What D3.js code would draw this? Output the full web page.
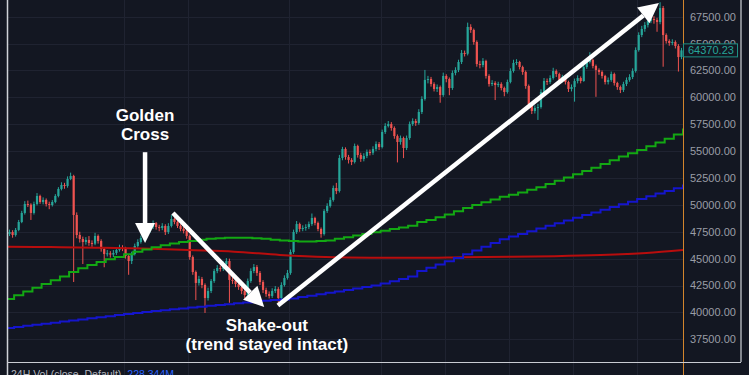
<!DOCTYPE html>
<html>
<head>
<meta charset="utf-8">
<script src="https://cdn.jsdelivr.net/npm/d3@7"></script>
<style>
  html, body { margin: 0; padding: 0; background: #131722; }
  svg { display: block; }
</style>
</head>
<body>
<script>
// BTC 8h candles, open of each bar = close of the previous one
const candleStart = "2021-08-31T08:00:00Z";
const candleHours = 8;
const firstOpen = 47300;

const closes = [
  47480, 47200, 47670, 48410, 49250, 50080, 50020, 49250, 50080, 50830,
  50270, 50460, 50080, 49990, 50270, 50830, 51480, 51850, 51760, 52410,
  52690, 49060, 47200, 46830, 46550, 46740, 46460, 46400, 47110, 46640,
  45900, 45430, 45500, 45380, 45530, 45810, 45990, 45950, 45250, 44780,
  45430, 46180, 46550, 46920, 47110, 47570, 47940, 48310, 47940,
  47850, 48040, 47480, 48040, 48690, 48410, 48040, 47760, 47570, 47110,
  45150, 43760, 42740, 43110, 42550, 41340, 41990, 42920, 43850, 44130,
  44040, 44500, 44780, 43020, 42950, 42640, 42360, 41990, 41620, 42920,
  43850, 44220, 43670, 42830, 42090, 41710, 41530, 41990, 42180, 41340,
  42550, 43200, 43670, 45620, 47480, 48220, 47760, 47850, 47940,
  48220, 48780, 48320, 47760, 47290, 49430, 49900, 50460, 51570, 51290,
  54360, 55200, 54450, 54180, 53990, 55480, 54640, 54270, 54550, 54920,
  54850, 55200, 55660, 55380, 56780, 57340, 57520, 57150, 56400, 55850,
  56220, 55290, 56220, 57520, 57800, 57620, 58640, 59850, 61620, 61710,
  61240, 60780, 60960, 60220, 61990, 61710, 60870, 62270, 62550,
  63290, 64130, 64060, 66550, 66270, 65150, 63100, 63010, 63380, 61990,
  61240, 61340, 61150, 61240, 60870, 60500, 61430, 62450, 63200, 63290,
  62820, 62360, 61060, 59380, 58730, 59010, 59100, 60500, 61520, 61430,
  61800, 62450, 62170, 61620, 61890, 61430, 60780, 60960, 61520, 61800,
  61520, 62820, 63290, 63480, 62920, 62550, 62360, 61990, 61430,
  61620, 62170, 61340, 60960, 60690, 61240, 61620, 61890, 62450, 64400,
  65800, 66360, 66730, 67100, 67290, 67200, 67010, 68310, 65800, 65240,
  65060, 65150, 64780, 63750, 64370.23
];

const highs = [
  47700, 47650, 47850, 48600, 49450, 50350, 50400, 50150, 50300, 51100,
  50950, 50700, 50600, 50300, 50450, 51000, 51650, 52100, 52050, 52650,
  53000, 52800, 49300, 47500, 47050, 47000, 47100, 46700, 47400, 47250,
  46800, 46050, 45800, 45700, 45800, 46050, 46300, 46250, 46100, 45400,
  45650, 46400, 46800, 47150, 47350, 47800, 48200, 48550, 48400,
  48150, 48300, 48200, 48300, 49050, 48850, 48550, 48200, 47950, 47700,
  47250, 45300, 43900, 43400, 43300, 42700, 42300, 43100, 44050, 44400,
  44350, 44750, 45050, 45000, 43300, 43150, 42850, 42550, 42200, 43150,
  44100, 44500, 44400, 43850, 43000, 42300, 41950, 42250, 42450, 42350,
  42800, 43450, 43950, 45850, 47700, 48500, 48350, 48100, 48200,
  48450, 49200, 48900, 48450, 47900, 49600, 50150, 50700, 51800, 52050,
  54650, 55400, 55350, 54650, 54350, 55700, 55600, 54850, 54800, 55150,
  55150, 55450, 55900, 55850, 57000, 57600, 57800, 57700, 57300, 56550,
  56450, 56350, 56450, 57750, 58050, 58000, 58900, 60100, 62550, 62000,
  61900, 61400, 61200, 61100, 62300, 62150, 61850, 62500, 62800,
  63500, 64400, 64350, 66950, 66800, 66400, 65300, 63400, 63650, 63500,
  62150, 61600, 61500, 61450, 61400, 61000, 61650, 62700, 63500, 63550,
  63400, 62950, 62500, 61200, 59550, 59250, 59400, 60750, 61800, 61750,
  62050, 62750, 62600, 62300, 62100, 62050, 61550, 61200, 61750, 62050,
  61950, 63100, 63550, 64200, 63600, 63050, 62700, 62500, 62100,
  61850, 62400, 62300, 61450, 61100, 61450, 61850, 62150, 62700, 64650,
  66050, 66650, 67000, 67400, 67600, 67550, 67400, 68850, 68500, 65950,
  65400, 65400, 65300, 64950, 64600
];

const lows = [
  47100, 46950, 47050, 47550, 48300, 49100, 49800, 48600, 49100, 49950,
  50100, 50050, 49850, 49600, 49850, 50150, 50700, 51350, 51500, 51600,
  52300, 42830, 46900, 46500, 44500, 46300, 46200, 46100, 46250, 46400,
  45650, 44200, 45200, 45100, 45150, 45350, 45650, 45700, 45000, 43500,
  44500, 45300, 46000, 46400, 46700, 46950, 47400, 47750, 47700,
  47550, 47650, 47200, 47300, 47900, 48200, 47850, 47550, 47350, 46850,
  44900, 43500, 41150, 42500, 42250, 39950, 41100, 41800, 42750, 43650,
  43800, 43850, 44300, 40900, 42650, 42350, 42100, 41700, 41300, 41450,
  42750, 43650, 43400, 42550, 41800, 41450, 41300, 41350, 41800, 40900,
  41200, 42400, 43050, 43500, 45450, 47300, 47500, 47550, 47600,
  47750, 48050, 48100, 47550, 46950, 47150, 49250, 49750, 50300, 51000,
  51150, 54150, 54200, 53850, 53700, 53850, 54400, 54000, 54050, 54350,
  54600, 54650, 55000, 55100, 55250, 56600, 57200, 56900, 56150, 53950,
  55600, 54350, 55100, 56050, 57350, 57350, 57450, 58450, 59700, 61300,
  61000, 60550, 60500, 59500, 60050, 61400, 60200, 60700, 62050,
  62350, 63100, 63800, 63900, 66000, 64900, 62850, 62700, 62800, 61750,
  61000, 61050, 59750, 60950, 60650, 60100, 60350, 61300, 62300, 63000,
  62600, 62100, 60800, 59100, 58450, 58500, 57900, 58950, 60350, 61150,
  61250, 61650, 61900, 61350, 61400, 61200, 60500, 60550, 59600, 61300,
  61300, 61450, 62650, 63150, 62700, 60050, 62100, 61750, 61200,
  61200, 61450, 61100, 60700, 60400, 60500, 61050, 61450, 61700, 62300,
  64250, 65600, 66100, 66500, 66900, 66850, 66100, 66800, 62850, 65000,
  64800, 64850, 64550, 62400, 63550
];

// daily moving averages, one value per UTC day from maStart
const maStart = "2021-08-31T00:00:00Z";
const greenMA = [
  41250, 41600, 41950, 42300, 42650, 43000, 43350, 43750, 44100, 44400,
  44700, 44950, 45150, 45400, 45650, 45850, 46050, 46250, 46400, 46550,
  46650, 46750, 46850, 46900, 46950, 46950, 46950, 46900, 46850, 46750,
  46700, 46650, 46600, 46600, 46650, 46700, 46850, 47000, 47150, 47300,
  47450, 47600, 47750, 47900, 48050, 48400, 48600, 48850, 49100, 49400,
  49700, 50000, 50250, 50500, 50750, 50950, 51150, 51400, 51650, 51950,
  52250, 52550, 52850, 53150, 53450, 53800, 54150, 54500, 54800, 55100,
  55450, 55800, 56150, 56550, 57000
];
const blueMA = [
  38550, 38650, 38750, 38850, 38950, 39050, 39150, 39250, 39350, 39450,
  39550, 39650, 39750, 39850, 39950, 40050, 40130, 40210, 40290, 40370,
  40450, 40530, 40610, 40690, 40770, 40850, 40930, 41010, 41080, 41150,
  41200, 41300, 41430, 41560, 41690, 41820, 41950, 42080, 42220, 42360,
  42500, 42700, 42900, 43100, 43350, 43850, 44150, 44450, 44750, 45050,
  45400, 45750, 46100, 46450, 46800, 47050, 47300, 47550, 47800, 48050,
  48300, 48550, 48800, 49050, 49300, 49550, 49800, 50050, 50300, 50550,
  50800, 51050, 51300, 51550, 51800
];
const redDates = [
  "2021-08-31", "2021-09-05", "2021-09-10", "2021-09-15", "2021-09-20",
  "2021-09-25", "2021-09-30", "2021-10-05", "2021-10-10", "2021-10-15",
  "2021-10-20", "2021-10-25", "2021-10-30", "2021-11-04", "2021-11-09",
  "2021-11-13"
];
const redMA = [
  46120, 46080, 46020, 45950, 45800, 45650, 45350, 45150, 45090, 45080,
  45130, 45180, 45230, 45330, 45520, 45800
];

const priceTicks = [37500, 40000, 42500, 45000, 47500, 50000, 52500, 55000, 57500, 60000, 62500, 65000, 67500];
const gridDates = ["2021-09-13", "2021-09-20", "2021-10-01", "2021-10-11", "2021-10-18", "2021-10-25", "2021-11-01", "2021-11-08"];
const lastPrice = 64370.23;
const volLabel = "24H Vol (close, Default)";
const volValue = "228.344M";

const annotations = [
  { lines: ["Golden", "Cross"], at: "2021-09-15T07:00:00Z", prices: [57800, 56030] },
  { lines: ["Shake-out", "(trend stayed intact)"], at: "2021-09-28T14:00:00Z", prices: [38270, 36500] }
];
const arrows = [
  { from: ["2021-09-15T07:00:00Z", 54900], to: ["2021-09-15T07:00:00Z", 46450] },
  { from: ["2021-09-18T08:00:00Z", 49250], to: ["2021-09-28T07:00:00Z", 40500] },
  { from: ["2021-09-29T19:00:00Z", 40650], to: ["2021-11-10T09:00:00Z", 68780] }
];

const width = 749, height = 375;
const pane = { left: 8, right: 683, top: 0, bottom: 362 };
const fontUI = "'Liberation Sans', Arial, sans-serif";

const hour = 3600e3, day = 24 * hour;
const t0 = new Date(candleStart);
const candles = closes.map((c, i) => ({
  t: new Date(+t0 + i * candleHours * hour),
  o: i ? closes[i - 1] : firstOpen,
  h: highs[i],
  l: lows[i],
  c: c
}));

const x = d3.scaleUtc()
  .domain([t0, new Date(+t0 + closes.length * candleHours * hour)])
  .range([pane.left, pane.right]);
const y = d3.scaleLinear().domain([35389, 69055]).range([pane.bottom, pane.top]);

const svg = d3.select("body").append("svg")
  .attr("width", width)
  .attr("height", height);

svg.append("rect").attr("width", width).attr("height", height).attr("fill", "#131722");

svg.append("clipPath").attr("id", "pane")
  .append("rect")
    .attr("x", pane.left).attr("y", pane.top)
    .attr("width", pane.right - pane.left).attr("height", pane.bottom - pane.top);

// grid
const grid = svg.append("g").attr("stroke", "#1f2331").attr("stroke-width", 1);
grid.selectAll(".hg").data(priceTicks).join("line")
  .attr("x1", pane.left).attr("x2", pane.right)
  .attr("y1", d => Math.round(y(d)) + 0.5).attr("y2", d => Math.round(y(d)) + 0.5);
grid.selectAll(".vg").data(gridDates.map(d => new Date(d + "T00:00:00Z"))).join("line")
  .attr("x1", d => Math.round(x(d)) + 0.5).attr("x2", d => Math.round(x(d)) + 0.5)
  .attr("y1", pane.top).attr("y2", height);

const plot = svg.append("g").attr("clip-path", "url(#pane)");

// candles
const up = "#26a69a", down = "#ef5350";
const step = x(new Date(+t0 + candleHours * hour)) - x(t0);
const bar = plot.append("g").selectAll("g").data(candles).join("g")
  .attr("fill", d => d.c >= d.o ? up : down)
  .attr("stroke", d => d.c >= d.o ? up : down);
bar.append("line")
  .attr("x1", d => x(d.t) + step / 2).attr("x2", d => x(d.t) + step / 2)
  .attr("y1", d => y(d.h)).attr("y2", d => y(d.l))
  .attr("stroke-width", 1);
bar.append("rect")
  .attr("stroke", "none")
  .attr("x", d => x(d.t) + step / 2 - 1.1)
  .attr("width", 2.2)
  .attr("y", d => y(Math.max(d.o, d.c)))
  .attr("height", d => Math.max(1, Math.abs(y(d.o) - y(d.c))));

// moving averages
const m0 = new Date(maStart);
function dailySeries(values) {
  const pts = values.map((v, i) => [new Date(+m0 + i * day), v]);
  pts.push([new Date(+m0 + values.length * day), values[values.length - 1]]);
  return pts;
}
const stepLine = d3.line().x(d => x(d[0])).y(d => y(d[1])).curve(d3.curveStepAfter);
const smoothLine = d3.line().x(d => x(d[0])).y(d => y(d[1])).curve(d3.curveMonotoneX);

plot.append("path")
  .datum(redDates.map((d, i) => [new Date(d + "T00:00:00Z"), redMA[i]]))
  .attr("d", smoothLine).attr("fill", "none").attr("stroke", "#b80d0d").attr("stroke-width", 2);
plot.append("path")
  .datum(dailySeries(greenMA))
  .attr("d", stepLine).attr("fill", "none").attr("stroke", "#13a813").attr("stroke-width", 2);
plot.append("path")
  .datum(dailySeries(blueMA))
  .attr("d", stepLine).attr("fill", "none").attr("stroke", "#1515cc").attr("stroke-width", 2);

// frame
svg.append("line").attr("x1", pane.right + 0.5).attr("x2", pane.right + 0.5)
  .attr("y1", 0).attr("y2", height).attr("stroke", "#d3852c").attr("stroke-width", 1);
svg.append("line").attr("x1", 7.5).attr("x2", 7.5).attr("y1", 0).attr("y2", height)
  .attr("stroke", "#cfd2d8").attr("stroke-width", 1.5);
svg.append("line").attr("x1", 741).attr("x2", 741).attr("y1", 0).attr("y2", pane.bottom)
  .attr("stroke", "#cfd2d8").attr("stroke-width", 1.2);
svg.append("line").attr("x1", 7).attr("x2", 741).attr("y1", pane.bottom + 0.5).attr("y2", pane.bottom + 0.5)
  .attr("stroke", "#c9ccd3").attr("stroke-width", 1.2);

// price scale
svg.append("g").selectAll("text").data(priceTicks).join("text")
  .attr("x", 690).attr("y", d => y(d)).attr("dy", "0.36em")
  .attr("font-family", fontUI).attr("font-size", 11).attr("fill", "#9a9da6")
  .text(d => d3.format(".2f")(d));

const tag = svg.append("g").attr("transform", `translate(0,${y(lastPrice)})`);
tag.append("rect").attr("x", 683.5).attr("y", -6.5).attr("width", 54).attr("height", 13)
  .attr("fill", "#131722").attr("stroke", "#1f8f83").attr("stroke-width", 1);
tag.append("text").attr("x", 688).attr("dy", "0.36em")
  .attr("font-family", fontUI).attr("font-size", 11).attr("fill", "#26a69a")
  .text(d3.format(".2f")(lastPrice));

// volume pane legend (cut by the bottom edge, as in the source)
const volText = svg.append("text").attr("x", 11).attr("y", 378)
  .attr("font-family", fontUI).attr("font-size", 10.5).attr("fill", "#b2b5be")
  .text(volLabel);
svg.append("text").attr("x", 11 + volText.node().getComputedTextLength() + 6).attr("y", 378)
  .attr("font-family", fontUI).attr("font-size", 10.5).attr("fill", "#2962ff")
  .text(volValue);

// annotations
const notes = svg.append("g");
arrows.forEach(a => {
  const x1 = x(new Date(a.from[0])), y1 = y(a.from[1]);
  const x2 = x(new Date(a.to[0])), y2 = y(a.to[1]);
  const ang = Math.atan2(y2 - y1, x2 - x1);
  const headLen = 20, headHalf = 10;
  const bx = x2 - headLen * Math.cos(ang), by = y2 - headLen * Math.sin(ang);
  notes.append("line")
    .attr("x1", x1).attr("y1", y1).attr("x2", bx).attr("y2", by)
    .attr("stroke", "#ffffff").attr("stroke-width", 4.5);
  notes.append("polygon")
    .attr("fill", "#ffffff")
    .attr("points", [
      [x2, y2],
      [bx + headHalf * Math.sin(ang), by - headHalf * Math.cos(ang)],
      [bx - headHalf * Math.sin(ang), by + headHalf * Math.cos(ang)]
    ].map(p => p.join(",")).join(" "));
});
annotations.forEach(n => {
  n.lines.forEach((line, i) => {
    notes.append("text")
      .attr("x", x(new Date(n.at))).attr("y", y(n.prices[i]))
      .attr("text-anchor", "middle")
      .attr("font-family", fontUI).attr("font-weight", "bold").attr("font-size", 17)
      .attr("fill", "#ffffff")
      .text(line);
  });
});
</script>
</body>
</html>
